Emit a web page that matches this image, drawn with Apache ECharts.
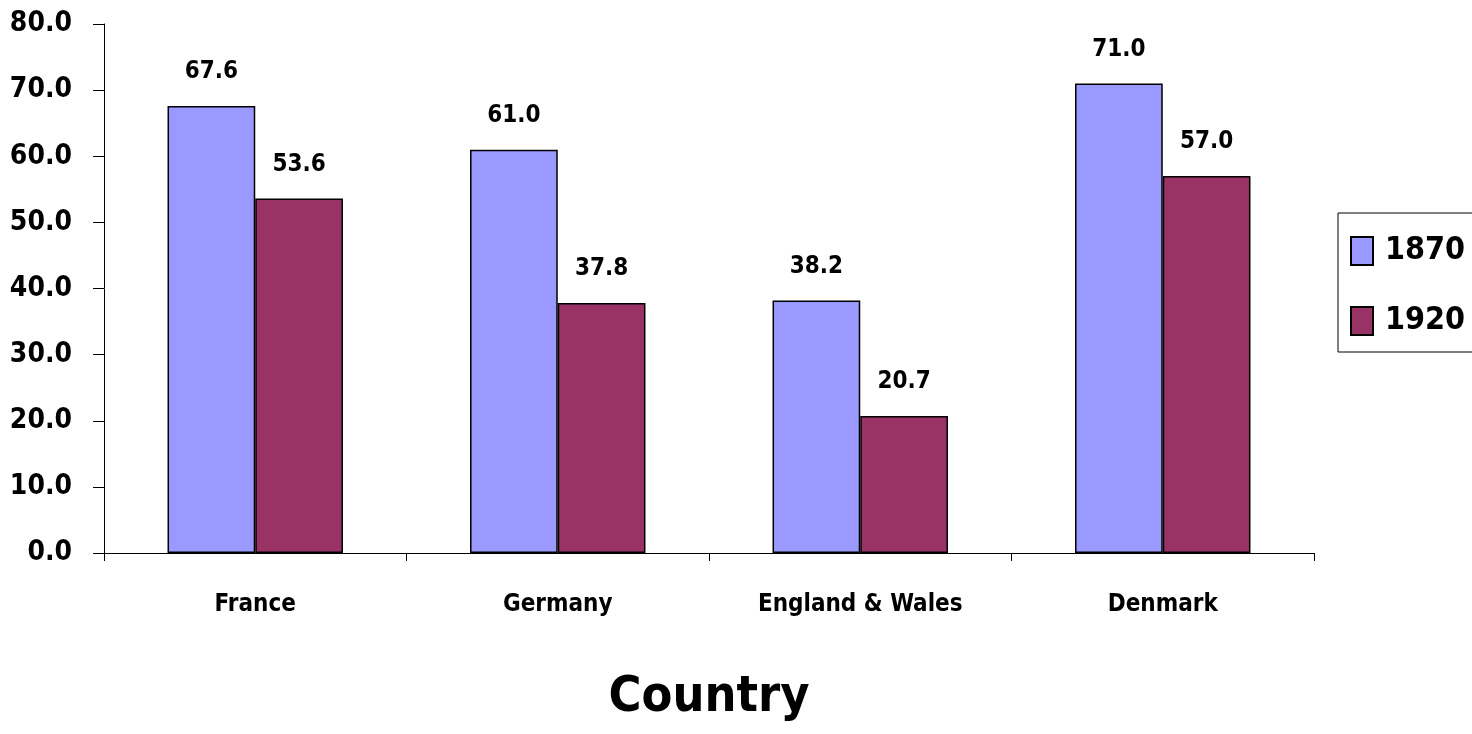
<!DOCTYPE html>
<html>
<head>
<meta charset="utf-8">
<script src="https://cdn.jsdelivr.net/npm/echarts@6/dist/echarts.min.js"></script>
<style>
html, body { margin: 0; padding: 0; background: #fff; }
#main { width: 1472px; height: 734px; }
</style>
</head>
<body>
<div id="main"></div>
<script>
var countries = ['France', 'Germany', 'England & Wales', 'Denmark'];
var v1870 = [67.6, 61.0, 38.2, 71.0];
var v1920 = [53.6, 37.8, 20.7, 57.0];

var font = '"DejaVu Sans Condensed", "Liberation Sans Narrow", "Arial Narrow", sans-serif';

var labelStyle = {
    show: true,
    position: 'top',
    distance: 22,
    fontFamily: font,
    fontWeight: 'bold',
    fontSize: 24,
    color: '#000',
    formatter: function (p) { return p.value.toFixed(1); }
};

option = {
    animation: false,
    backgroundColor: '#fff',
    grid: {
        left: 104,
        right: 158,
        top: 24,
        bottom: 181,
        outerBoundsMode: 'none'
    },
    legend: {
        orient: 'vertical',
        left: 1338,
        top: 213,
        padding: [22, 40, 15, 12],
        borderColor: '#000',
        borderWidth: 1,
        itemWidth: 22,
        itemHeight: 28,
        itemGap: 38,
        icon: 'rect',
        textStyle: {
            fontFamily: font,
            fontWeight: 'bold',
            fontSize: 32,
            color: '#000',
            padding: [0, 0, 0, 7]
        },
        data: ['1870', '1920']
    },
    xAxis: {
        type: 'category',
        data: countries,
        name: 'Country',
        nameLocation: 'middle',
        nameGap: 120,
        nameTextStyle: {
            fontFamily: font,
            fontWeight: 'bold',
            fontSize: 50,
            color: '#000'
        },
        axisLine: { lineStyle: { color: '#000', width: 1 } },
        axisTick: { show: true, length: 8, lineStyle: { color: '#000' } },
        axisLabel: {
            margin: 40,
            fontFamily: font,
            fontWeight: 'bold',
            fontSize: 24,
            color: '#000'
        }
    },
    yAxis: {
        type: 'value',
        min: 0,
        max: 80,
        interval: 10,
        axisLine: { show: true, lineStyle: { color: '#000', width: 1 } },
        axisTick: { show: true, length: 11, lineStyle: { color: '#000' } },
        splitLine: { show: false },
        axisLabel: {
            margin: 32,
            fontFamily: font,
            fontWeight: 'bold',
            fontSize: 28,
            color: '#000',
            formatter: function (v) { return v.toFixed(1); }
        }
    },
    series: [
        {
            name: '1870',
            type: 'bar',
            data: v1870,
            barGap: '0%',
            barCategoryGap: '42%',
            itemStyle: { color: '#9999FF', borderColor: '#000', borderWidth: 1.5 },
            label: labelStyle
        },
        {
            name: '1920',
            type: 'bar',
            data: v1920,
            itemStyle: { color: '#993366', borderColor: '#000', borderWidth: 1.5 },
            label: labelStyle
        }
    ]
};

var myChart = echarts.init(document.getElementById('main'));
myChart.setOption(option);
</script>
</body>
</html>
